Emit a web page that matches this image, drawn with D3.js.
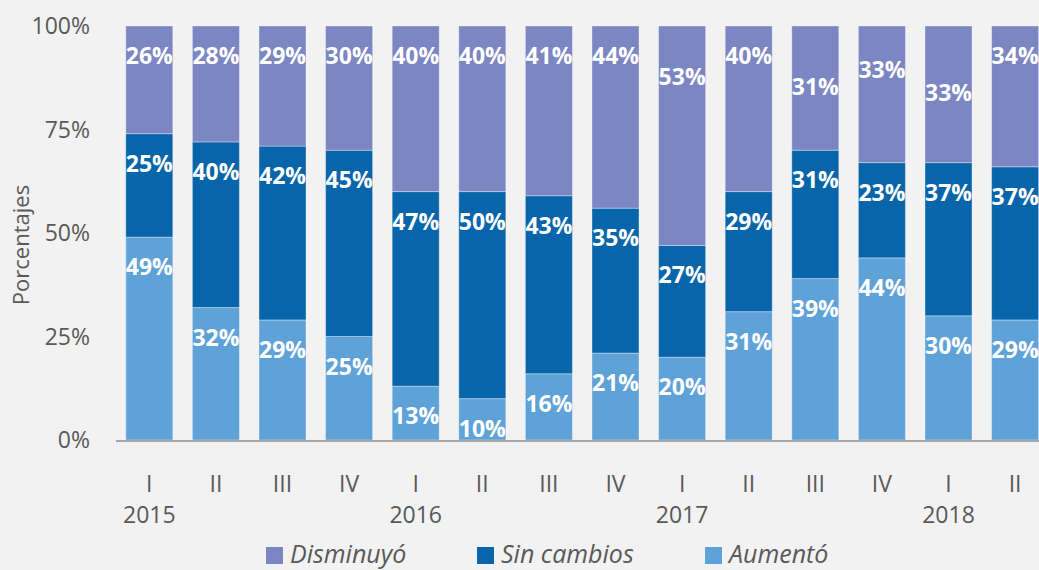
<!DOCTYPE html>
<html>
<head>
<meta charset="utf-8">
<script src="https://cdn.jsdelivr.net/npm/d3@7"></script>
<style>
  body { margin: 0; background: #f2f2f2; }
  svg { display: block; font-family: "Open Sans", sans-serif; }
</style>
</head>
<body>
<div id="chart"></div>
<script>
// data
const quarters = ["I", "II", "III", "IV", "I", "II", "III", "IV", "I", "II", "III", "IV", "I", "II"];
const years = ["2015", "2016", "2017", "2018"];
const aumento = [49, 32, 29, 25, 13, 10, 16, 21, 20, 31, 39, 44, 30, 29];
const sinCambios = [25, 40, 42, 45, 47, 50, 43, 35, 27, 29, 31, 23, 37, 37];
const disminuyo = [26, 28, 29, 30, 40, 40, 41, 44, 53, 40, 31, 33, 33, 34];
const yTicks = [0, 25, 50, 75, 100];

// manual nudges of some top labels (as in the original)
const topLabelShift = [0, 0, 0, 0, 0, 0, 0, 0, 21, 0, 31, 14, 37, 0];

const width = 1039, height = 570;
const colors = { "Disminuyó": "#7b86c2", "Sin cambios": "#0865a9", "Aumentó": "#5fa2d8" };

const svg = d3.select("#chart").append("svg")
  .attr("width", width)
  .attr("height", height);

svg.append("rect").attr("width", width).attr("height", height).attr("fill", "#f2f2f2");

const x = d3.scaleBand()
  .domain(d3.range(quarters.length))
  .range([116, 116 + quarters.length * 66.6])
  .paddingInner(0.294)
  .paddingOuter(0.147);

const y = d3.scaleLinear().domain([0, 100]).range([440, 26]);

// stack: Aumentó at bottom, then Sin cambios, then Disminuyó
const rows = quarters.map((q, i) => ({
  i: i,
  "Aumentó": aumento[i],
  "Sin cambios": sinCambios[i],
  "Disminuyó": disminuyo[i]
}));
const keys = ["Aumentó", "Sin cambios", "Disminuyó"];
const series = d3.stack().keys(keys)(rows);

const layer = svg.selectAll("g.layer")
  .data(series)
  .enter().append("g")
  .attr("class", "layer")
  .attr("fill", d => colors[d.key]);

layer.selectAll("rect")
  .data(d => d)
  .enter().append("rect")
  .attr("x", d => x(d.data.i))
  .attr("width", x.bandwidth())
  .attr("y", d => y(Math.min(100, d[1])))
  .attr("height", d => y(d[0]) - y(Math.min(100, d[1])))
  .attr("stroke", "rgba(255,255,255,0.35)")
  .attr("stroke-width", 1);

// data labels
series.forEach(s => {
  svg.append("g").selectAll("text")
    .data(s)
    .enter().append("text")
    .attr("x", d => x(d.data.i) + x.bandwidth() / 2)
    .attr("y", d => {
      let top = y(Math.min(100, d[1])) + 38;
      if (s.key === "Disminuyó") top += topLabelShift[d.data.i];
      return top;
    })
    .attr("text-anchor", "middle")
    .attr("fill", "#fff")
    .attr("font-weight", "bold")
    .attr("font-size", 23)
    .text(d => d.data[s.key] + "%");
});

// y axis labels
svg.append("g").selectAll("text")
  .data(yTicks)
  .enter().append("text")
  .attr("x", 90)
  .attr("y", d => y(d) + 8)
  .attr("text-anchor", "end")
  .attr("fill", "#595959")
  .attr("font-size", 23)
  .text(d => d + "%");

svg.append("text")
  .attr("transform", "translate(29,245) rotate(-90)")
  .attr("text-anchor", "middle")
  .attr("fill", "#595959")
  .attr("font-size", 22)
  .text("Porcentajes");

// x axis line
svg.append("line")
  .attr("x1", x.range()[0]).attr("x2", x.range()[1])
  .attr("y1", y(0) + 1).attr("y2", y(0) + 1)
  .attr("stroke", "#a6a6a6")
  .attr("stroke-width", 2);

// category labels
svg.append("g").selectAll("text")
  .data(quarters)
  .enter().append("text")
  .attr("x", (d, i) => x(i) + x.bandwidth() / 2)
  .attr("y", 492)
  .attr("text-anchor", "middle")
  .attr("fill", "#595959")
  .attr("font-size", 23)
  .text(d => d);

svg.append("g").selectAll("text")
  .data(years)
  .enter().append("text")
  .attr("x", (d, i) => x(i * 4) + x.bandwidth() / 2)
  .attr("y", 523)
  .attr("text-anchor", "middle")
  .attr("fill", "#595959")
  .attr("font-size", 23)
  .text(d => d);

// legend
const legendItems = [
  { key: "Disminuyó", x: 266 },
  { key: "Sin cambios", x: 477 },
  { key: "Aumentó", x: 705 }
];
const lg = svg.append("g").selectAll("g")
  .data(legendItems)
  .enter().append("g")
  .attr("transform", d => "translate(" + d.x + ",547)");
lg.append("rect")
  .attr("width", 17).attr("height", 17)
  .attr("fill", d => colors[d.key]);
lg.append("text")
  .attr("x", 24)
  .attr("y", 16)
  .attr("fill", "#595959")
  .attr("font-size", 25)
  .attr("font-style", "italic")
  .text(d => d.key);
</script>
</body>
</html>
